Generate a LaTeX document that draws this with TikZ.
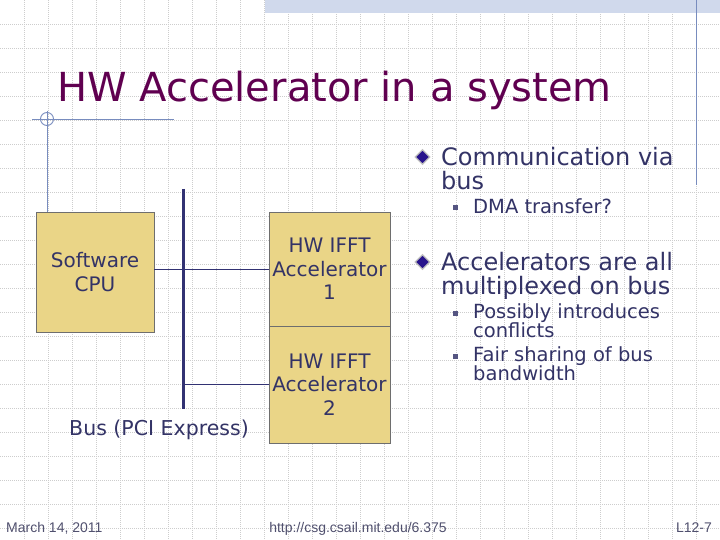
\documentclass[tikz,border=0pt]{standalone}
\usepackage{fontspec}
\setmainfont{DejaVu Sans}
\newfontfamily\footfont{Liberation Sans}
\usetikzlibrary{shapes.geometric}
\definecolor{gridc}{RGB}{205,205,205}
\definecolor{titlec}{RGB}{96,0,80}
\definecolor{textc}{RGB}{51,51,102}
\definecolor{boxfill}{RGB}{234,213,135}
\definecolor{boxline}{RGB}{110,110,110}
\definecolor{busc}{RGB}{50,50,115}
\definecolor{decoc}{RGB}{120,140,190}
\definecolor{bandc}{RGB}{208,217,236}
\definecolor{footc}{RGB}{80,80,110}
\definecolor{diamc}{RGB}{40,20,140}
\definecolor{sqc}{RGB}{85,85,130}
\tikzset{
  hwbox/.style={draw=boxline, line width=0.7pt, fill=boxfill, text=textc,
    font=\fontsize{20}{23.5}\selectfont, align=center, inner sep=0pt},
  mainitem/.style={anchor=base west, text=textc, inner sep=0pt,
    font=\fontsize{24}{24}\selectfont},
  subitem/.style={anchor=base west, text=textc, inner sep=0pt,
    font=\fontsize{19.5}{19}\selectfont},
  diambullet/.style={diamond, draw=gray!50, line width=1.2pt, fill=diamc,
    minimum width=15pt, minimum height=15pt, inner sep=0pt},
  sqbullet/.style={rectangle, fill=sqc, minimum size=5pt, inner sep=0pt},
  foot/.style={text=footc, font=\footfont\fontsize{14}{15}\selectfont, inner sep=0pt},
  decoline/.style={draw=decoc, line width=0.9pt},
  conn/.style={draw=busc, line width=0.9pt},
}
\begin{document}
\begin{tikzpicture}[x=1pt,y=-1pt]
\useasboundingbox (0,0) rectangle (720,540);
\fill[white] (0,0) rectangle (720,540);
% grid
\foreach \i in {24,48,...,696} \draw[gridc, line width=0.6pt, dash pattern=on 1pt off 1pt] (\i,0) -- (\i,540);
\foreach \j in {24,48,...,528} \draw[gridc, line width=0.6pt, dash pattern=on 1pt off 1pt] (0,\j) -- (720,\j);
% top band
\fill[bandc] (265,0) rectangle (720,13);
% decorations
\draw[decoline] (696,0) -- (696,185);
\draw[decoline] (32,119) -- (174,119);
\draw[decoline] (47,111) -- (47,212);
\draw[decoline] (47,119) circle (6.5);
% title
\node[anchor=base west, text=titlec, inner sep=0pt, font=\fontsize{40}{40}\selectfont] (title) at (57,102) {HW Accelerator in a system};
% boxes
\node[hwbox, minimum width=118pt, minimum height=120pt] (cpu) at (95,272) {Software\\CPU};
\node[hwbox, minimum width=121pt, minimum height=114pt] (acc1) at (329.5,269) {HW IFFT\\Accelerator\\1};
\node[hwbox, minimum width=121pt, minimum height=117pt] (acc2) at (329.5,384.5) {HW IFFT\\Accelerator\\2};
% bus
\coordinate (bustop) at (183,189);
\coordinate (busbot) at (183,409);
\draw[busc, line width=3pt] (bustop) -- (busbot);
\draw[conn] (cpu.east |- acc1.west) -- (acc1.west);
\draw[conn] (acc2.west -| bustop) -- (acc2.west);
\node[text=textc, font=\fontsize{20.5}{23}\selectfont, inner sep=0pt] (buslabel) at (159,430) {Bus (PCI Express)};
% bullets
\node[diambullet] (d1) at (422.5,157) {};
\node[mainitem] (t1a) at (441,166) {Communication via};
\node[mainitem] (t1b) at (441,190) {bus};
\node[sqbullet] (s1) at (455.5,208) {};
\node[subitem] (t2) at (473,214) {DMA transfer?};
\node[diambullet] (d2) at (422.5,262) {};
\node[mainitem] (t3a) at (441,270) {Accelerators are all};
\node[mainitem] (t3b) at (441,294) {multiplexed on bus};
\node[sqbullet] (s2) at (455.5,313) {};
\node[subitem] (t4a) at (473,318) {Possibly introduces};
\node[subitem] (t4b) at (473,337) {conflicts};
\node[sqbullet] (s3) at (455.5,356) {};
\node[subitem] (t5a) at (473,361.5) {Fair sharing of bus};
\node[subitem] (t5b) at (473,380) {bandwidth};
% footer
\node[foot, anchor=base west] (date) at (6,532) {March 14, 2011};
\node[foot, anchor=base] (url) at (358,532) {http://csg.csail.mit.edu/6.375};
\node[foot, anchor=base east] (pg) at (712,532) {L12-7};
\end{tikzpicture}
\end{document}
